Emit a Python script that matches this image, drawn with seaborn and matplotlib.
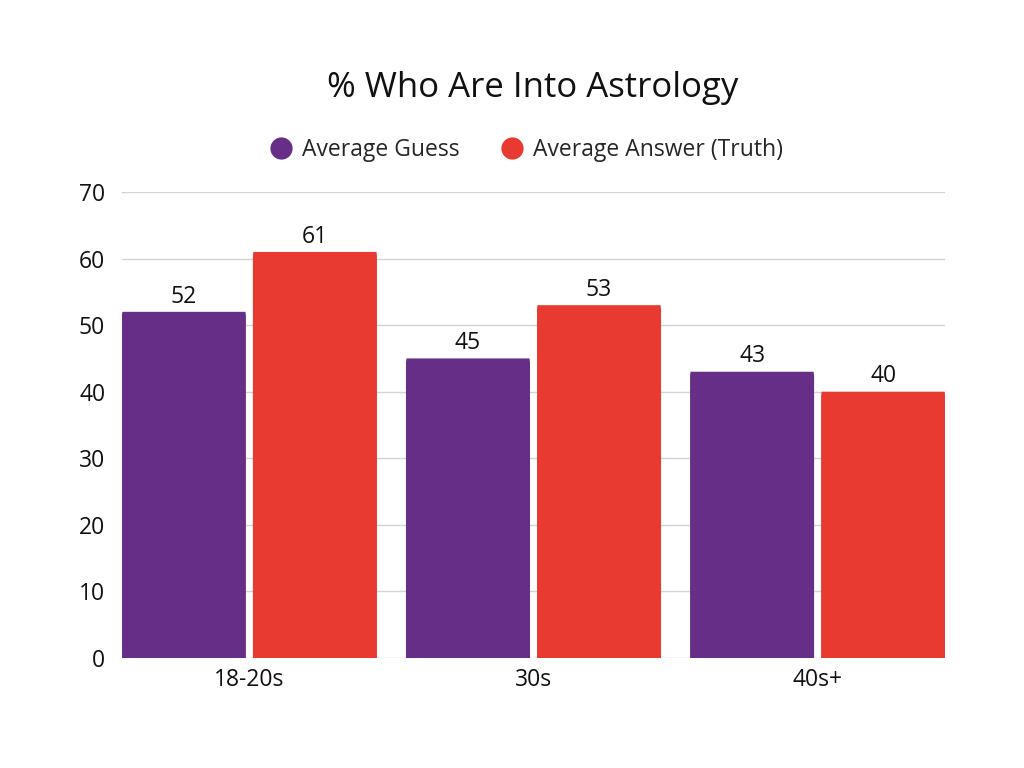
import matplotlib
matplotlib.use("Agg")
import matplotlib.pyplot as plt
from matplotlib.patches import FancyBboxPatch
from matplotlib.lines import Line2D
import pandas as pd
import seaborn as sns

# data
age_groups = ["18-20s", "30s", "40s+"]
series_names = ["Average Guess", "Average Answer (Truth)"]
avg_guess = [52, 45, 43]
avg_truth = [61, 53, 40]
colors = ["#662E87", "#E83A30"]

df = pd.DataFrame({
    "group": age_groups * 2,
    "series": [series_names[0]] * 3 + [series_names[1]] * 3,
    "value": avg_guess + avg_truth,
})

sns.set_theme(style="white")
plt.rcParams["font.family"] = ["Open Sans", "DejaVu Sans"]

fig = plt.figure(figsize=(10.24, 7.68), dpi=100)
ax = fig.add_axes([0.119, 0.1432, 0.804, 0.6068])

sns.barplot(data=df, x="group", y="value", hue="series", palette=colors,
            width=0.9225, gap=0.0534, saturation=1, legend=False, ax=ax, zorder=3)

ax.set_xlim(-0.449, 2.449)
ax.set_ylim(0, 70)

# swap the plain bars for ones with rounded top corners
px_x = 804 * 10.24 / 2.898  # pixels per x unit
px_y = 0.6068 * 768 / 70     # pixels per y unit
aspect = px_x / px_y
rad = 7 / px_x
for p in list(ax.patches):
    x, w, h = p.get_x(), p.get_width(), p.get_height()
    fb = FancyBboxPatch((x, -3), w, h + 3,
                        boxstyle=f"round,pad=0,rounding_size={rad}",
                        mutation_aspect=aspect, facecolor=p.get_facecolor(),
                        edgecolor="none", zorder=3)
    ax.add_patch(fb)
    ax.text(x + w / 2, h + 0.5, f"{h:.0f}", ha="center", va="bottom",
            fontsize=16.5, color="#111111", zorder=4)
    p.remove()

ax.set_yticks(range(0, 71, 10))
ax.yaxis.grid(True, color="#d3d3d3", linewidth=1, zorder=0)
ax.set_axisbelow(True)
for s in ax.spines.values():
    s.set_visible(False)
ax.tick_params(axis="both", length=0, labelsize=16.5, colors="#111111")
ax.tick_params(axis="y", pad=12)
ax.tick_params(axis="x", pad=7)
ax.set_xlabel("")
ax.set_ylabel("")

fig.text(533 / 1024, 1 - 88 / 768, "% Who Are Into Astrology", ha="center", va="center",
         fontsize=25, color="#111111")

handles = [Line2D([0], [0], marker="o", linestyle="", markersize=16,
                  markerfacecolor=c, markeredgecolor="none") for c in colors]
fig.legend(handles, series_names, loc="center", bbox_to_anchor=(0.514, 1 - 150 / 768),
           ncol=2, frameon=False, fontsize=16.5, handletextpad=0.4, columnspacing=1.8,
           handlelength=1.0)

fig.savefig("out.png", dpi=100)
